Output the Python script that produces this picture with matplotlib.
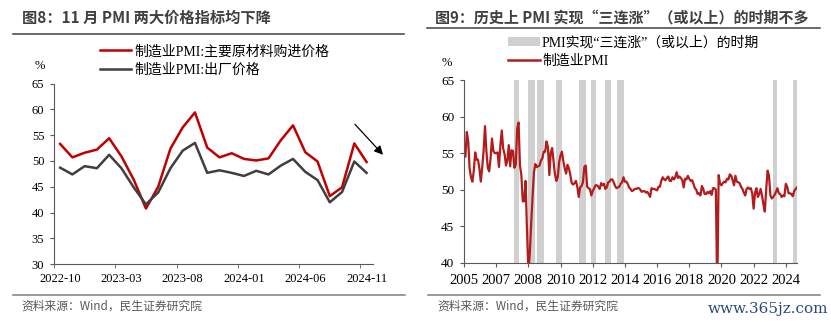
import pandas as pd
import matplotlib.pyplot as plt
from matplotlib.lines import Line2D
from matplotlib.patches import Patch

W, H = 831, 326
CJK = ['Noto Sans CJK SC', 'DejaVu Sans']
SERIF = ['Liberation Serif', 'Noto Sans CJK SC']
plt.rcParams['font.family'] = SERIF

# 图8: 两大价格指数, 2022-10 ~ 2024-11
months_l = list(pd.period_range('2022-10', '2024-11', freq='M').strftime('%Y-%m'))
purchase = [53.3, 50.7, 51.6, 52.2, 54.4, 50.9, 46.4, 40.8, 45.0, 52.4, 56.5, 59.4, 52.6,
            50.7, 51.5, 50.4, 50.1, 50.5, 54.0, 56.9, 51.7, 49.9, 43.2, 44.9, 53.4, 49.8]
output = [48.7, 47.4, 49.0, 48.6, 51.2, 48.6, 44.9, 41.6, 43.9, 48.6, 52.0, 53.5, 47.7,
          48.2, 47.7, 47.1, 48.1, 47.4, 49.1, 50.4, 47.9, 46.3, 42.0, 44.0, 49.9, 47.7]
ticks_l = ['2022-10', '2023-03', '2023-08', '2024-01', '2024-06', '2024-11']

# 图9: 制造业PMI, 2005-01 ~ 2024-11
months_r = list(pd.period_range('2005-01', '2024-11', freq='M').strftime('%Y-%m'))
pmi = [
    54.7, 54.5, 57.9, 56.7, 52.9, 51.7, 51.1, 52.6, 55.1, 54.1, 54.1, 52.9,  # 2005
    51.1, 53.0, 55.3, 58.7, 55.3, 53.0, 52.5, 54.3, 57.0, 55.3, 55.0, 55.0,  # 2006
    55.1, 53.1, 56.1, 58.1, 55.6, 54.9, 53.3, 54.0, 56.1, 53.2, 55.4, 55.3,  # 2007
    53.0, 53.4, 58.4, 59.2, 53.3, 52.0, 48.4, 48.4, 51.2, 44.6, 38.8, 41.2,  # 2008
    45.3, 49.0, 52.4, 53.5, 53.1, 53.2, 53.3, 54.0, 54.3, 55.2, 55.2, 56.6,  # 2009
    55.8, 52.0, 55.1, 55.7, 53.9, 52.1, 51.2, 51.7, 53.8, 54.7, 55.2, 53.9,  # 2010
    52.9, 52.2, 53.4, 52.9, 52.0, 50.9, 50.7, 50.9, 51.2, 50.4, 49.0, 50.3,  # 2011
    50.5, 51.0, 53.1, 53.3, 50.4, 50.2, 50.1, 49.2, 49.8, 50.2, 50.6, 50.6,  # 2012
    50.4, 50.1, 50.9, 50.6, 50.8, 50.1, 50.3, 51.0, 51.1, 51.4, 51.4, 51.0,  # 2013
    50.5, 50.2, 50.3, 50.4, 50.8, 51.0, 51.7, 51.1, 51.1, 50.8, 50.3, 50.1,  # 2014
    49.8, 49.9, 50.1, 50.1, 50.2, 50.2, 50.0, 49.7, 49.8, 49.8, 49.6, 49.7,  # 2015
    49.4, 49.0, 50.2, 50.1, 50.1, 50.0, 49.9, 50.4, 50.4, 51.2, 51.7, 51.4,  # 2016
    51.3, 51.6, 51.8, 51.2, 51.2, 51.7, 51.4, 51.7, 52.4, 51.6, 51.8, 51.6,  # 2017
    51.3, 50.3, 51.5, 51.4, 51.9, 51.5, 51.2, 51.3, 50.8, 50.2, 50.0, 49.4,  # 2018
    49.5, 49.2, 50.5, 50.1, 49.4, 49.4, 49.7, 49.5, 49.8, 49.3, 50.2, 50.2,  # 2019
    50.0, 35.7, 52.0, 50.8, 50.6, 50.9, 51.1, 51.0, 51.5, 51.4, 52.1, 51.9,  # 2020
    51.3, 50.6, 51.9, 51.1, 51.0, 50.9, 50.4, 50.1, 49.6, 49.2, 50.1, 50.3,  # 2021
    50.1, 50.2, 49.5, 47.4, 49.6, 50.2, 49.0, 49.4, 50.1, 49.2, 48.0, 47.0,  # 2022
    50.1, 52.6, 51.9, 49.2, 48.8, 49.0, 49.3, 49.7, 50.2, 49.5, 49.4, 49.0,  # 2023
    49.2, 49.1, 50.8, 50.4, 49.5, 49.5, 49.4, 49.1, 49.8, 50.1, 50.3,        # 2024
]
ticks_r = ['2005-01', '2006-12', '2008-11', '2010-10', '2012-09', '2014-08',
           '2016-07', '2018-06', '2020-05', '2022-04', '2024-03']
ticklabels_r = ['2005', '2007', '2008', '2010', '2012', '2014',
                '2016', '2018', '2020', '2022', '2024']
# 三连涨(或以上)区间
rises = [('2008-01', '2008-04'), ('2008-11', '2009-04'), ('2009-05', '2009-10'),
         ('2010-07', '2010-11'), ('2011-11', '2012-04'), ('2012-08', '2012-11'),
         ('2013-06', '2013-10'), ('2014-02', '2014-07'), ('2023-06', '2023-09'),
         ('2024-08', '2024-11')]

RED = '#C00000'
RED2 = '#B41C1C'
GREY = '#3F3F3F'
SHADE = '#D0D0D0'
AXC = '#595959'


def fx(x):
    return x / W


def fy(y):
    return 1 - y / H


fig = plt.figure(figsize=(W / 100, H / 100), dpi=100)

# ---- left panel ----
ax1 = fig.add_axes([fx(54), fy(264.3), 318.7 / W, 180.8 / H])
xl = range(len(months_l))
ax1.plot(xl, purchase, color=RED, lw=1.8)
ax1.plot(xl, output, color=GREY, lw=1.8)
ax1.set_xlim(-0.5, len(months_l) - 0.5)
ax1.set_ylim(30, 65)
ax1.set_yticks(range(30, 66, 5))
ax1.set_xticks([months_l.index(t) for t in ticks_l])
ax1.set_xticklabels(ticks_l)
ax1.set_xticks([months_l.index(t) - 0.5 for t in ticks_l], minor=True)
ax1.tick_params(axis='x', which='major', length=0, pad=6, labelsize=9)
ax1.tick_params(axis='x', which='minor', length=3, color=AXC)
ax1.tick_params(axis='y', length=3, color=AXC, labelsize=9, pad=4)
ax1.annotate('', xy=(26.5, 50.8), xytext=(23.9, 57.5),
             arrowprops=dict(arrowstyle='-|>', color='black', lw=0.9, mutation_scale=13),
             annotation_clip=False)
ax1.legend(handles=[Line2D([], [], color=RED, lw=1.8),
                    Line2D([], [], color=GREY, lw=1.8)],
           labels=['制造业PMI:主要原材料购进价格', '制造业PMI:出厂价格'],
           loc='upper left', bbox_to_anchor=(fx(100), fy(45)), bbox_transform=fig.transFigure,
           frameon=False, fontsize=10, handlelength=2.2, handletextpad=0.25,
           labelspacing=0.36, borderpad=0, borderaxespad=0)
fig.text(fx(40), fy(66), '%', fontsize=9, ha='center', va='center')

# ---- right panel ----
ax2 = fig.add_axes([fx(464), fy(262.7), 333 / W, 182.6 / H])
for a, b in rises:
    ax2.axvspan(months_r.index(a), months_r.index(b), color=SHADE, lw=0)
ax2.plot(range(len(months_r)), pmi, color=RED2, lw=1.6)
ax2.set_xlim(0, len(months_r) - 1)
ax2.set_ylim(40, 65)
ax2.set_yticks(range(40, 66, 5))
ax2.set_xticks([months_r.index(t) for t in ticks_r])
ax2.set_xticklabels(ticklabels_r)
ax2.tick_params(axis='x', length=3, color=AXC, labelsize=10.5, pad=5)
ax2.tick_params(axis='y', length=3, color=AXC, labelsize=9.5, pad=4)
ax2.legend(handles=[Patch(facecolor=SHADE, lw=0),
                    Line2D([], [], color=RED2, lw=1.8)],
           labels=['PMI实现“三连涨”（或以上）的时期', '制造业PMI'],
           loc='upper left', bbox_to_anchor=(fx(508), fy(36)), bbox_transform=fig.transFigure,
           frameon=False, fontsize=10, handlelength=2.3, handletextpad=0.15,
           labelspacing=0.38, borderpad=0, borderaxespad=0)
fig.text(fx(447), fy(63), '%', fontsize=9, ha='center', va='center')

for ax in (ax1, ax2):
    for s in ('top', 'right'):
        ax.spines[s].set_visible(False)
    for s in ('left', 'bottom'):
        ax.spines[s].set_color(AXC)
        ax.spines[s].set_linewidth(0.8)

# ---- titles, rules and source notes ----
fig.text(fx(22), fy(18), '图8：11 月 PMI 两大价格指标均下降', fontsize=11,
         fontweight='bold', color='#404040', va='center', family=CJK)
fig.text(fx(435), fy(18), '图9：历史上 PMI 实现“三连涨”（或以上）的时期不多', fontsize=10.8,
         fontweight='bold', color='#404040', va='center', family=CJK)
fig.add_artist(Line2D([fx(13), fx(404)], [fy(34), fy(34)], color='#404040', lw=1.1))
fig.add_artist(Line2D([fx(427), fx(820)], [fy(28), fy(28)], color='#404040', lw=1.1))
fig.add_artist(Line2D([fx(13), fx(405)], [fy(295), fy(295)], color='#7F7F7F', lw=1.1))
fig.add_artist(Line2D([fx(428), fx(820)], [fy(295), fy(295)], color='#7F7F7F', lw=1.1))
fig.text(fx(21), fy(306), '资料来源：Wind，民生证券研究院', fontsize=8.5,
         color='#595959', va='center', family=CJK)
fig.text(fx(437), fy(306), '资料来源：Wind，民生证券研究院', fontsize=8.5,
         color='#595959', va='center', family=CJK)
fig.text(fx(828), fy(309), 'www.365jz.com', fontsize=11, color='#2A4A7F',
         ha='right', va='center', family=['DejaVu Serif'])

fig.savefig('out.png', dpi=100)
